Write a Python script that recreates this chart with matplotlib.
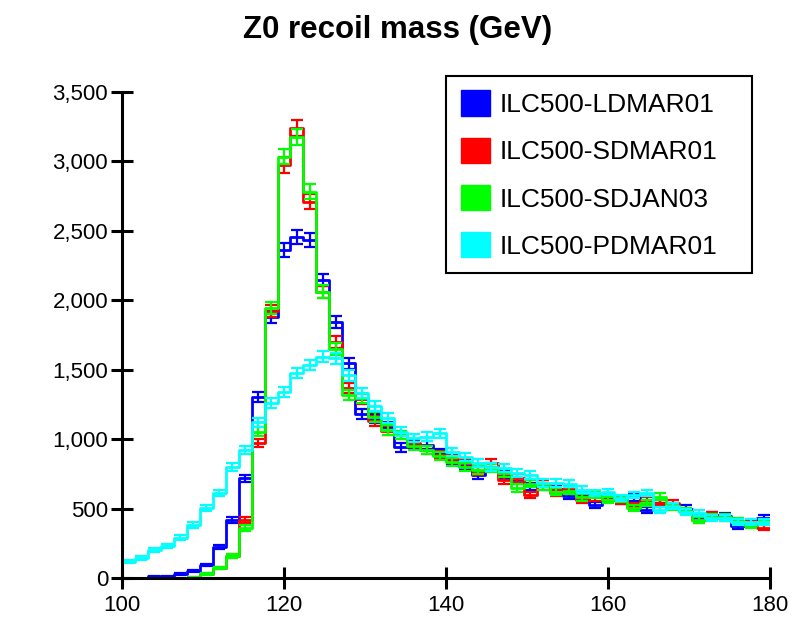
import numpy as np
import matplotlib
matplotlib.use("Agg")
import matplotlib.pyplot as plt
import matplotlib.ticker as ticker
from matplotlib.patches import Patch

plt.rcParams['font.family'] = ['Liberation Sans', 'DejaVu Sans']

# Daten: 50 Bins zu 1.6 GeV zwischen 100 und 180
edges = np.linspace(100, 180, 51)

ldmar01 = [0, 0, 12, 12, 30, 53, 94, 220, 418, 718,
           1300, 1880, 2362, 2458, 2434, 2146, 1846, 1548, 1180, 1150,
           1090, 940, 960, 958, 900, 850, 810, 742, 800, 740,
           700, 660, 660, 640, 590, 600, 526, 580, 560, 580,
           490, 540, 520, 500, 440, 454, 450, 374, 400, 434]
sdmar01 = [0, 0, 0, 0, 0, 3, 29, 70, 158, 418,
           972, 1920, 2974, 3240, 2710, 2060, 1700, 1368, 1290, 1130,
           1060, 1030, 972, 922, 886, 860, 830, 770, 826, 706,
           720, 598, 680, 612, 640, 562, 580, 580, 560, 520,
           560, 540, 540, 480, 418, 454, 430, 400, 390, 362]
sdjan03 = [0, 0, 0, 0, 0, 3, 29, 70, 158, 360,
           1053, 1944, 3034, 3178, 2782, 2062, 1650, 1320, 1296, 1161,
           1066, 1030, 950, 922, 880, 837, 801, 778, 790, 754,
           648, 680, 660, 620, 630, 580, 600, 562, 570, 504,
           540, 586, 510, 480, 418, 440, 440, 410, 380, 400]
pdmar01 = [117, 144, 200, 230, 290, 382, 504, 612, 800, 920,
           1120, 1260, 1340, 1476, 1534, 1594, 1584, 1460, 1332, 1238,
           1152, 1053, 1008, 1017, 1044, 909, 873, 826, 800, 790,
           754, 740, 684, 684, 680, 634, 612, 619, 576, 598,
           612, 490, 520, 477, 470, 432, 432, 405, 405, 405]

labels = ["ILC500-LDMAR01", "ILC500-SDMAR01", "ILC500-SDJAN03", "ILC500-PDMAR01"]
colors = ["#0000ff", "#ff0000", "#00ff00", "#00ffff"]
series = [ldmar01, sdmar01, sdjan03, pdmar01]

fig = plt.figure(figsize=(8, 6.26), dpi=100)
ax = fig.add_axes([0.1525, 0.0767, 0.81, 0.7763])

centers = 0.5 * (edges[:-1] + edges[1:])
for vals, col in zip(series, colors):
    vals = np.array(vals, dtype=float)
    # Treppenlinie, links von 0 aus, rechts offen
    ax.step(np.r_[edges[0], edges], np.r_[0, vals, vals[-1]], where="post",
            color=col, linewidth=2)
    err = np.sqrt(vals)
    mask = vals > 0
    ax.errorbar(centers[mask], vals[mask], yerr=err[mask], fmt="none",
                ecolor=col, elinewidth=1.6, capsize=4.5, capthick=1.6)

ax.set_xlim(100, 180)
ax.set_ylim(0, 3500)
ax.xaxis.set_major_locator(ticker.MultipleLocator(20))
ax.yaxis.set_major_locator(ticker.MultipleLocator(500))
ax.yaxis.set_major_formatter(ticker.StrMethodFormatter("{x:,.0f}"))
ax.tick_params(direction="inout", length=16, width=2.2, labelsize=16)
ax.tick_params(axis="y", pad=2)
ax.tick_params(axis="x", pad=4)
for s in ["top", "right"]:
    ax.spines[s].set_visible(False)
for s in ["left", "bottom"]:
    ax.spines[s].set_linewidth(2.2)

fig.text(0.497, 0.952, "Z0 recoil mass (GeV)", ha="center", va="center",
         fontsize=22.5, fontweight="bold")

handles = [Patch(facecolor=c, edgecolor=c) for c in colors]
leg = ax.legend(handles, labels, loc="upper left",
                bbox_to_anchor=(0.5, 0.63, 0.472, 0.403), mode="expand",
                borderaxespad=0,
                fontsize=19, handlelength=1.1, handleheight=1.1, handletextpad=0.4,
                labelspacing=0.78, borderpad=0.55, fancybox=False, framealpha=1,
                edgecolor="black")
leg.get_frame().set_linewidth(1.5)

plt.savefig("out.png", dpi=100)
